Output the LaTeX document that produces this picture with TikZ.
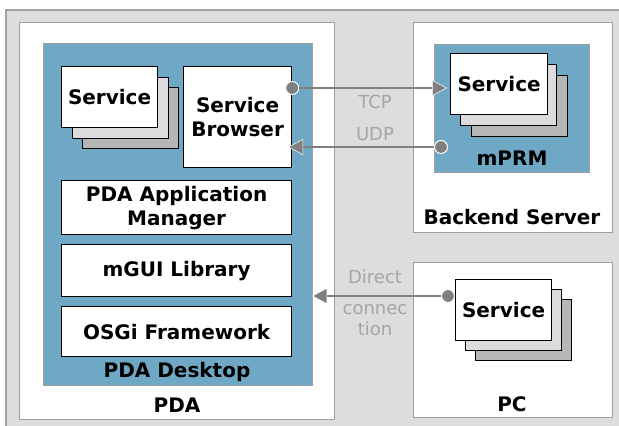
\documentclass[tikz,border=0pt]{standalone}
\usepackage{fontspec}
\setmainfont{DejaVu Sans}
\usetikzlibrary{arrows.meta}
\definecolor{bggray}{RGB}{221,221,221}
\definecolor{bordergray}{RGB}{160,160,160}
\definecolor{deskblue}{RGB}{111,168,196}
\definecolor{stackA}{RGB}{220,220,220}
\definecolor{stackB}{RGB}{182,182,182}
\definecolor{arrowgray}{RGB}{128,128,128}
\definecolor{labelgray}{RGB}{165,165,165}
\tikzset{
  host/.style={draw=bordergray, line width=1.2pt, fill=white, anchor=north west, inner sep=0pt},
  bluebox/.style={draw=bordergray, line width=1pt, fill=deskblue, anchor=north west, inner sep=0pt},
  compbox/.style={draw=black, line width=1.2pt, fill=white, anchor=north west, inner sep=0pt,
     align=center, font=\fontsize{20}{24}\selectfont\bfseries},
  stackbox/.style={draw=black, line width=1.2pt, anchor=north west, inner sep=0pt,
     minimum width=96pt, minimum height=61pt},
  title/.style={font=\fontsize{20}{24}\selectfont\bfseries, inner sep=0pt},
  proto/.style={font=\fontsize{18}{22}\selectfont, text=labelgray, inner sep=0pt, align=center},
  dotnode/.style={circle, fill=arrowgray, draw=white, line width=1pt, minimum size=13pt, inner sep=0pt},
  link/.style={draw=arrowgray, line width=2.6pt,
     -{Triangle[length=15pt,width=16pt,fill=arrowgray,color=white,line width=0.5pt]}, shorten >=-1pt},
}
\begin{document}
\begin{tikzpicture}[x=1pt,y=-1pt]
\useasboundingbox (0,0) rectangle (619,426);
% background
\node[draw=bordergray, line width=1.5pt, fill=bggray, anchor=north west, inner sep=0pt,
  minimum width=620pt, minimum height=425pt] (bg) at (5,9) {};
% hosts
\node[host, minimum width=315pt, minimum height=397pt] (pda) at (19,22) {};
\node[host, minimum width=199pt, minimum height=210pt] (backend) at (413,22) {};
\node[host, minimum width=199pt, minimum height=155pt] (pc) at (413,262) {};
% PDA desktop
\node[bluebox, minimum width=269pt, minimum height=342pt] (desktop) at (43,43) {};
\node[stackbox, fill=stackB] (svc3) at (82,87) {};
\node[stackbox, fill=stackA] (svc2) at (72,77) {};
\node[stackbox, fill=white, font=\fontsize{20}{24}\selectfont\bfseries] (svc1) at (61,66) {Service};
\node[compbox, minimum width=108pt, minimum height=101pt] (browser) at (183,66) {Service\\Browser};
\node[compbox, minimum width=230pt, minimum height=54pt] (appmgr) at (61,180) {PDA Application\\Manager};
\node[compbox, minimum width=230pt, minimum height=52pt] (mgui) at (61,244) {mGUI Library};
\node[compbox, minimum width=230pt, minimum height=50pt] (osgi) at (61,306) {OSGi Framework};
\node[title] (desklabel) at (177,372) {PDA Desktop};
\node[title] (pdalabel) at (177,405) {PDA};
% backend
\node[bluebox, minimum width=155pt, minimum height=128pt] (mprm) at (434,44) {};
\node[stackbox, fill=stackB] (bsvc3) at (471,75) {};
\node[stackbox, fill=stackA] (bsvc2) at (460,64) {};
\node[stackbox, fill=white, minimum width=97pt, font=\fontsize{20}{24}\selectfont\bfseries] (bsvc1) at (450,53) {Service};
\node[title] (mprmlabel) at (512,158) {mPRM};
\node[title] (backlabel) at (512,217) {Backend Server};
% PC
\node[stackbox, fill=stackB] (psvc3) at (475,299) {};
\node[stackbox, fill=stackA] (psvc2) at (465,289) {};
\node[stackbox, fill=white, font=\fontsize{20}{24}\selectfont\bfseries] (psvc1) at (455,279) {Service};
\node[title] (pclabel) at (512,404) {PC};
% protocol labels
\node[proto] (tcp) at (375,102) {TCP};
\node[proto] (udp) at (375,134) {UDP};
\node[proto] (direct) at (375,277) {Direct};
\node[proto, font=\fontsize{18}{21}\selectfont] (connec) at (375,320) {connec\\tion};
% connectors
\node[dotnode] (tcpstart) at (browser.east |- 0,88) {};
\node[dotnode] (udpstart) at (441,147) {};
\node[dotnode] (pcstart) at (448,296) {};
\coordinate (tcpend) at (bsvc1.west |- 0,88);
\coordinate (udpend) at (browser.east |- 0,147);
\coordinate (pcend) at (desktop.east |- 0,296);
\draw[link, shorten >=3pt] (tcpstart) -- (tcpend);
\draw[link, shorten >=-4pt] (udpstart) -- (udpend);
\draw[link] (pcstart) -- (pcend);
\end{tikzpicture}
\end{document}
